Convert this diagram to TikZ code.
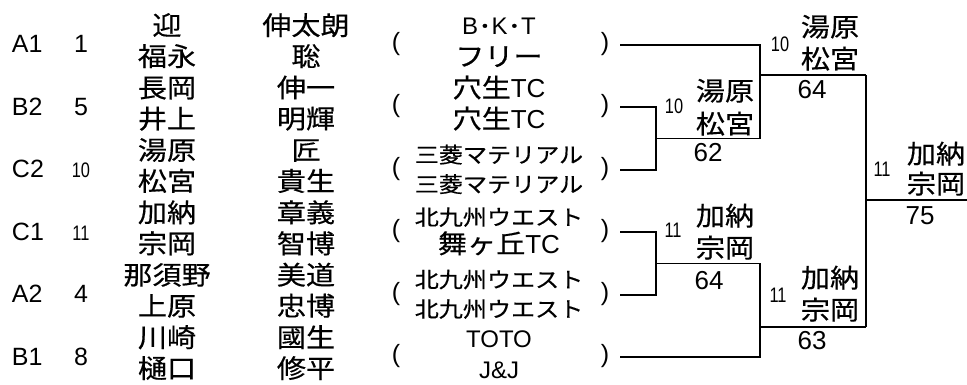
\documentclass[tikz,border=0pt]{standalone}
\usepackage{fontspec}
\setmainfont{Liberation Sans}
\newfontfamily\jp[FakeStretch=1.12,FakeBold=0.4]{Noto Sans CJK JP}
\newfontfamily\narrow[FakeStretch=0.78]{Liberation Sans}
\tikzset{
  txt/.style={anchor=base, inner sep=0pt, outer sep=0pt},
  lat/.style={txt, font=\fontsize{25}{30}\selectfont},
  latb/.style={txt, font=\fontsize{26}{30}\selectfont},
  lats/.style={txt, font=\fontsize{24}{30}\selectfont},
  nar/.style={txt, font=\narrow\fontsize{21}{25}\selectfont},
  jpn/.style={txt, font=\jp\fontsize{26}{30}\selectfont},
  jps/.style={txt, font=\jp\fontsize{21.5}{25}\selectfont},
  paren/.style={anchor=center, inner sep=0pt, font=\fontsize{25}{30}\selectfont},
  br/.style={line width=1.8pt, line join=miter}
}
\begin{document}
\begin{tikzpicture}[x=1pt,y=-1pt]
\useasboundingbox (0,0) rectangle (967,385);
\fill[white] (0,0) rectangle (967,385);
% entries
\foreach \i/\lab/\seed/\ss/\sa/\sb/\ga/\gb in {
 1/A1/1/lat/迎/福永/伸太朗/聡,
 2/B2/5/lat/長岡/井上/伸一/明輝,
 3/C2/10/nar/湯原/松宮/匠/貴生,
 4/C1/11/nar/加納/宗岡/章義/智博,
 5/A2/4/lat/那須野/上原/美道/忠博,
 6/B1/8/lat/川崎/樋口/國生/修平}{
 \pgfmathsetmacro\R{45+62.4*(\i-1)}
 \node[lat, anchor=base west] (lab\i) at (12,\R+8) {\lab};
 \node[\ss] (seed\i) at (81,\R+8) {\seed};
 \node[jpn] (sa\i) at (167,\R-10) {\sa};
 \node[jpn] (sb\i) at (167,\R+21) {\sb};
 \node[jpn] (ga\i) at (306,\R-10) {\ga};
 \node[jpn] (gb\i) at (306,\R+21) {\gb};
 \node[paren] (po\i) at (396,\R-1) {(};
 \node[paren] (pc\i) at (605,\R-1) {)};
 \coordinate (e\i) at (620,\R);
}
% teams
\node[lats] (t1a) at (499,35) {B{\jp ･}K{\jp ･}T};
\node[jpn]  (t1b) at (499,66) {フリー};
\node[jpn]  (t2a) at (499,97.4) {穴生{\rmfamily TC}};
\node[jpn]  (t2b) at (499,128.4) {穴生{\rmfamily TC}};
\node[jps]  (t3a) at (499,162.8) {三菱マテリアル};
\node[jps]  (t3b) at (499,192.3) {三菱マテリアル};
\node[jps]  (t4a) at (499,225.2) {北九州ウエスト};
\node[jpn]  (t4b) at (499,253.2) {舞ヶ丘{\rmfamily TC}};
\node[jps]  (t5a) at (499,287.6) {北九州ウエスト};
\node[jps]  (t5b) at (499,317.1) {北九州ウエスト};
\node[lats] (t6a) at (499,347) {TOTO};
\node[lats] (t6b) at (499,378) {J\&J};
% bracket
\coordinate (m1) at (656,138.6);
\coordinate (m2) at (760,138.6);
\coordinate (o2) at (760,75);
\coordinate (p2) at (866,75);
\coordinate (m3) at (656,263.4);
\coordinate (m4) at (760,263.4);
\coordinate (o4) at (760,327);
\coordinate (p4) at (866,327);
\coordinate (o5) at (866,200);
\coordinate (fin) at (967,200);
\draw[br] (e2) -| (m1) |- (e3);
\draw[br] (m1) -- (m2);
\draw[br] (e1) -| (m2);
\draw[br] (o2) -- (p2);
\draw[br] (e4) -| (m3) |- (e5);
\draw[br] (m3) -- (m4);
\draw[br] (e6) -| (m4);
\draw[br] (o4) -- (p4);
\draw[br] (p2) -- (p4);
\draw[br] (o5) -- (fin);
% bracket labels
\node[nar] (k1) at (674,114) {10};
\node[jpn] (w1a) at (725,100.5) {湯原};
\node[jpn] (w1b) at (725,133.5) {松宮};
\node[latb] (s1) at (708,161) {62};
\node[nar] (k2) at (780,52) {10};
\node[jpn] (w2a) at (830,36.5) {湯原};
\node[jpn] (w2b) at (830,68.5) {松宮};
\node[latb] (s2) at (812,99) {64};
\node[nar] (k3) at (673,237) {11};
\node[jpn] (w3a) at (725,225.5) {加納};
\node[jpn] (w3b) at (725,257.5) {宗岡};
\node[latb] (s3) at (709,289) {64};
\node[nar] (k4) at (778,302) {11};
\node[jpn] (w4a) at (830,287.5) {加納};
\node[jpn] (w4b) at (830,319.5) {宗岡};
\node[latb] (s4) at (812,349) {63};
\node[nar] (k5) at (882,177) {11};
\node[jpn] (w5a) at (936,163.5) {加納};
\node[jpn] (w5b) at (936,193.5) {宗岡};
\node[latb] (s5) at (920,225) {75};
\end{tikzpicture}
\end{document}
